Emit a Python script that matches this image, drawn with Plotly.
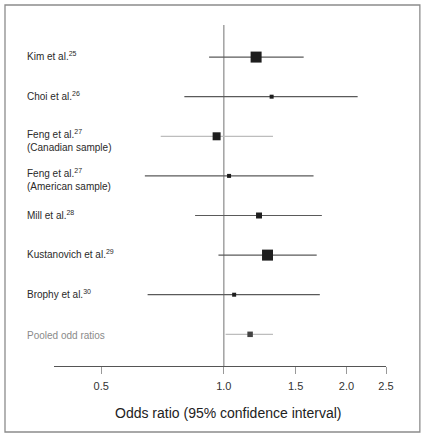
import plotly.graph_objects as go
import math

studies = ["Kim et al.<sup>25</sup>", "Choi et al.<sup>26</sup>",
           "Feng et al.<sup>27</sup><br>(Canadian sample)",
           "Feng et al.<sup>27</sup><br>(American sample)",
           "Mill et al.<sup>28</sup>", "Kustanovich et al.<sup>29</sup>",
           "Brophy et al.<sup>30</sup>", "Pooled odd ratios"]
odds = [1.20, 1.31, 0.96, 1.03, 1.22, 1.28, 1.06, 1.16]
ci_low = [0.92, 0.80, 0.70, 0.64, 0.85, 0.97, 0.65, 1.01]
ci_high = [1.57, 2.13, 1.32, 1.66, 1.74, 1.69, 1.72, 1.32]
weights = [11, 4, 8, 4, 6, 11, 4, 5.5]
tick_vals = [0.5, 1.0, 1.5, 2.0, 2.5]
tick_text = ["0.5", "1.0", "1.5", "2.0", "2.5"]

line_colors = ["#5a5a5a", "#5a5a5a", "#bdbdbd", "#5a5a5a", "#5a5a5a", "#5a5a5a", "#5a5a5a", "#bdbdbd"]
marker_colors = ["#1e1e1e"] * 7 + ["#444444"]
label_colors = ["#2a2a2a"] * 7 + ["#8a8a8a"]

fig = go.Figure()
for i in range(len(studies)):
    fig.add_trace(go.Scatter(x=[ci_low[i], ci_high[i]], y=[i, i], mode="lines",
                             line=dict(color=line_colors[i], width=1.2),
                             hoverinfo="skip", showlegend=False))
fig.add_trace(go.Scatter(x=odds, y=list(range(len(studies))), mode="markers",
                         marker=dict(symbol="square", size=weights, color=marker_colors,
                                     opacity=1, line=dict(width=0)),
                         showlegend=False))

# reference line at OR = 1
fig.add_shape(type="line", xref="x", yref="paper", x0=1, x1=1, y0=0, y1=1,
              line=dict(color="#8a8a8a", width=1.2), layer="below")

for i, s in enumerate(studies):
    if "<br>" in s:
        ys = -4
    elif "<sup>" in s:
        ys = 1
    else:
        ys = -1
    fig.add_annotation(x=-0.0783, xref="paper", y=i, yref="y", text=s, showarrow=False,
                       xanchor="left", yanchor="middle", align="left",
                       xshift=-3, yshift=ys,
                       font=dict(family="Liberation Sans, Arial", size=10, color=label_colors[i]))

fig.add_annotation(x=0.524, xref="paper", y=-0.138, yref="paper",
                   text="Odds ratio (95% confidence interval)", showarrow=False,
                   xanchor="center", yanchor="middle",
                   font=dict(family="Liberation Sans, Arial", size=14, color="#222222"))

# outer frame
fig.add_shape(type="rect", xref="paper", yref="paper", x0=-0.1476, x1=1.102,
              y0=-0.1935, y1=1.0587, line=dict(color="#8c8c8c", width=1.3))

fig.update_xaxes(type="log", range=[math.log10(0.383), math.log10(2.5)],
                 tickvals=tick_vals, ticktext=tick_text, showgrid=False, zeroline=False,
                 showline=True, linecolor="#555555", linewidth=1.2,
                 ticks="outside", ticklen=7, tickcolor="#999999", tickwidth=1.2,
                 ticklabelstandoff=3,
                 tickfont=dict(family="Liberation Sans, Arial", size=11, color="#333333"))
fig.update_yaxes(range=[7.8, -0.81], visible=False, showgrid=False, zeroline=False)

fig.update_layout(width=426, height=436, margin=dict(l=54, r=40, t=25, b=70),
                  plot_bgcolor="white", paper_bgcolor="white")

fig.write_html("out.html", config={"displayModeBar": False},
               post_script="document.body.style.margin='0';document.body.style.overflow='hidden';")
